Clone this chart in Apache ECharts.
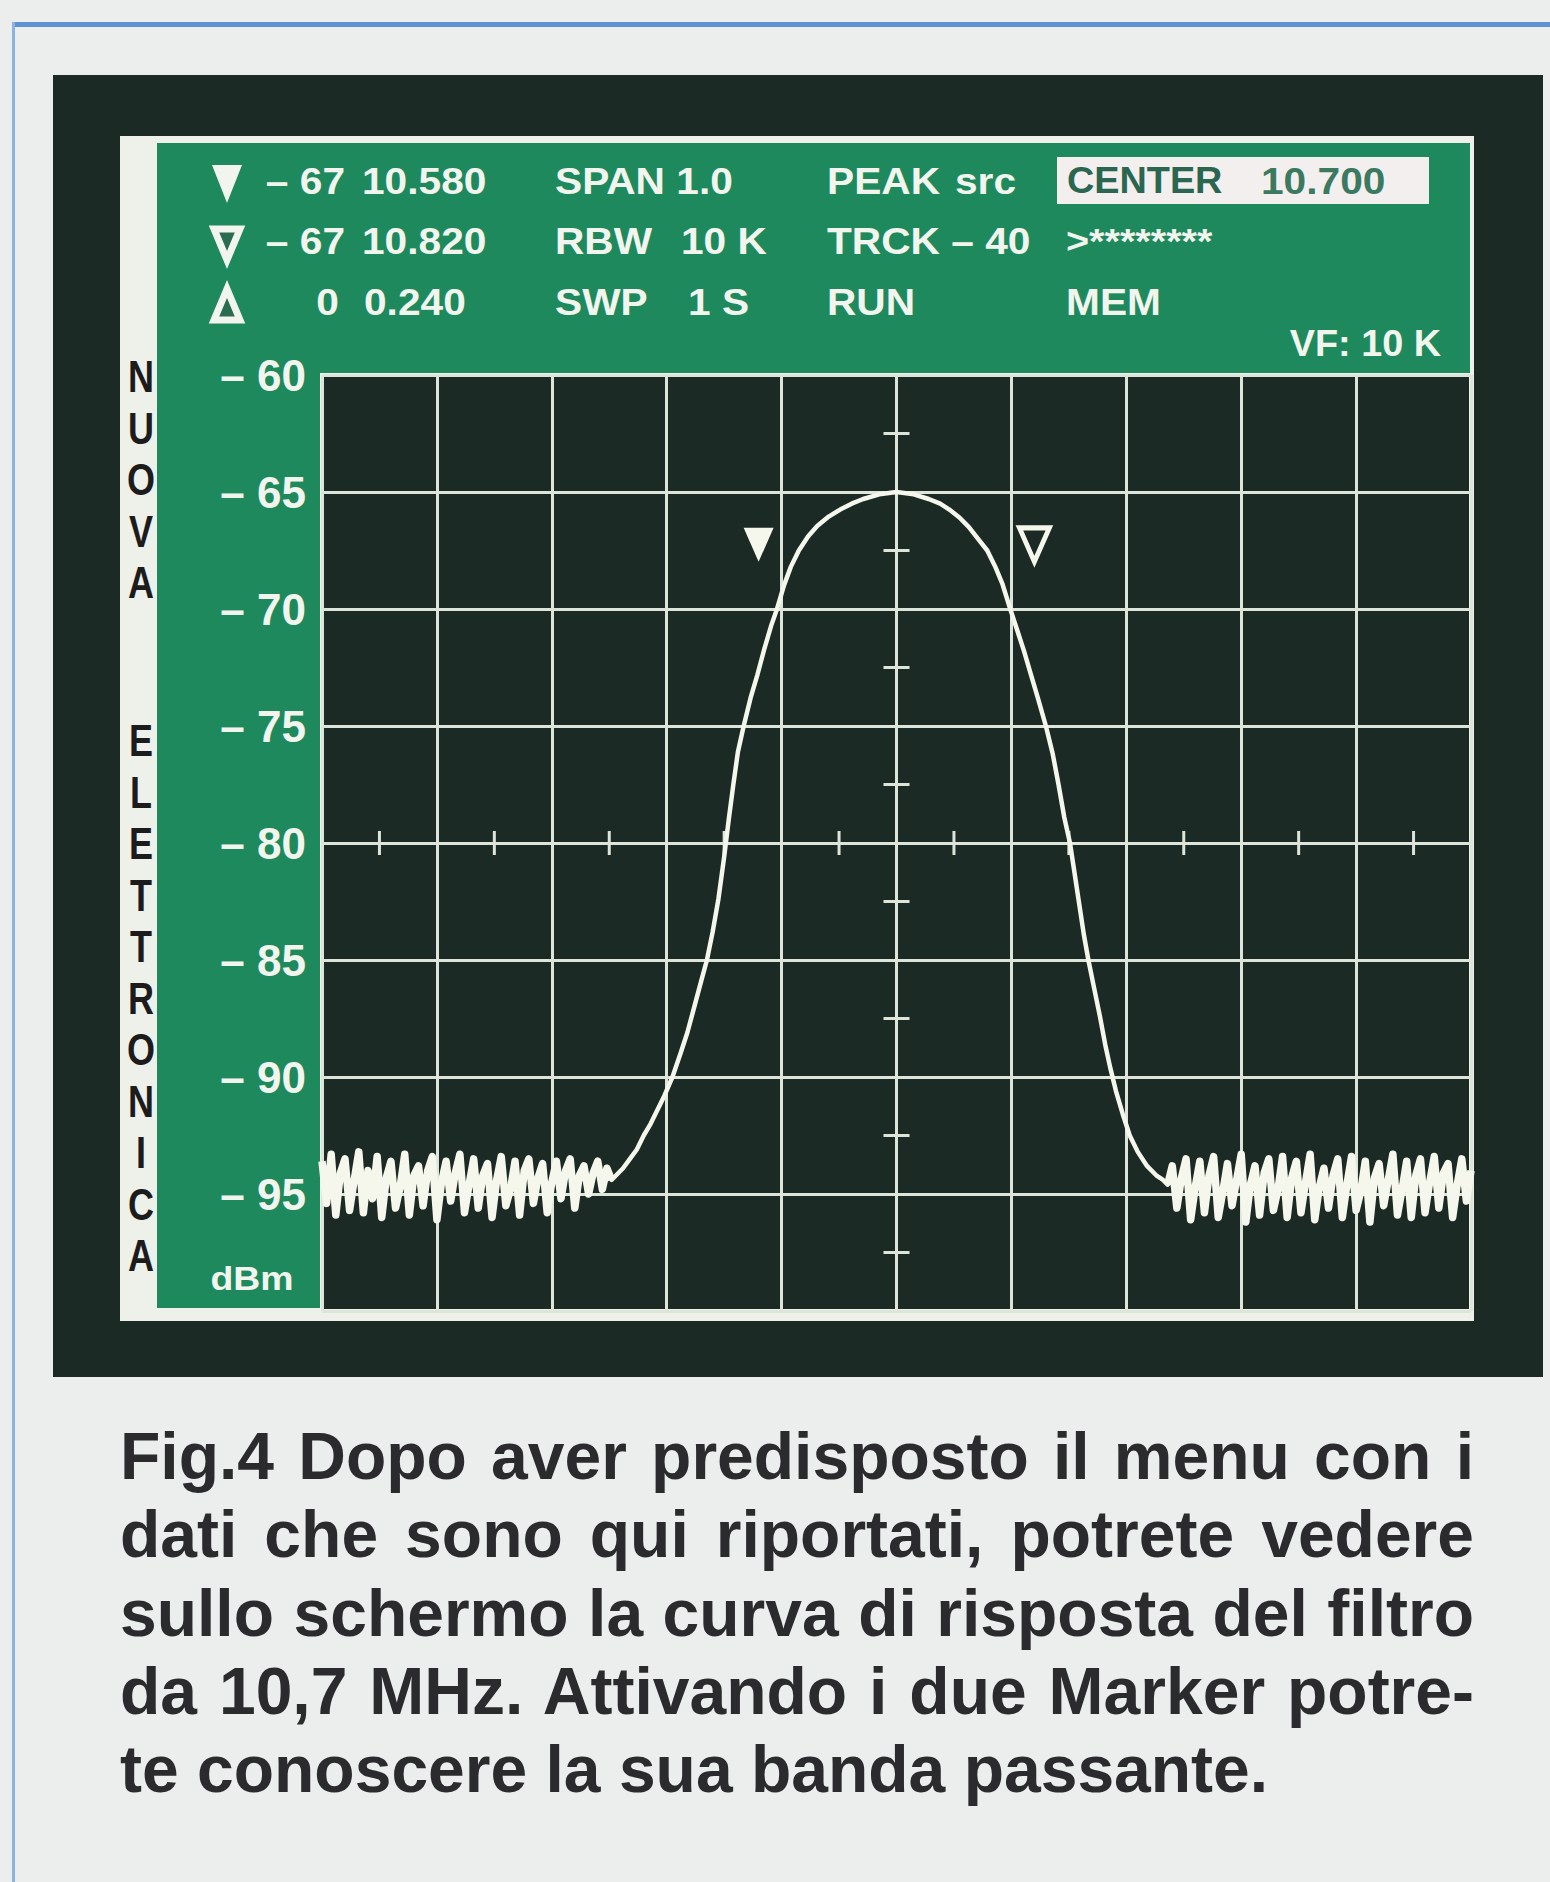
<!DOCTYPE html>
<html>
<head>
<meta charset="utf-8">
<title>Fig.4 – curva di risposta del filtro da 10,7 MHz</title>
<script src="https://cdn.jsdelivr.net/npm/echarts@6/dist/echarts.min.js"></script>
<style>
  html, body { margin: 0; padding: 0; }
  body { width: 1550px; height: 1882px; position: relative; background: #eceeed; overflow: hidden;
         font-family: "Liberation Sans", Arial, sans-serif; }
  .abs { position: absolute; }
  #topRule { left: 12px; top: 22px; width: 1538px; height: 5px; background: #5b93d3; }
  #leftRule { left: 12px; top: 22px; width: 3px; height: 1860px; background: #8db4e0; }
  #screen { left: 53px; top: 75px; width: 1490px; height: 1302px; background: #1c2a25; }
  #bezel { left: 120px; top: 136px; width: 1354px; height: 1185px; background: #eef0ea; }
  #panel { left: 157px; top: 143px; width: 1313px; height: 1165px; background: #1f895e; }
  #chart { left: 0; top: 0; width: 1550px; height: 1882px; }
  #caption { left: 120px; top: 1417px; width: 1354px; color: #2b2b2d;
             font: bold 66px/78.25px "Liberation Sans", Arial, sans-serif; }
  #caption div { text-align: justify; text-align-last: justify; white-space: nowrap; }
  #caption div.last { text-align: left; text-align-last: left; }
</style>
</head>
<body>
<div class="abs" id="topRule"></div>
<div class="abs" id="leftRule"></div>
<div class="abs" id="screen"></div>
<div class="abs" id="bezel"></div>
<div class="abs" id="panel"></div>
<div class="abs" id="chart"></div>
<div class="abs" id="caption">
  <div>Fig.4 Dopo aver predisposto il menu con i</div>
  <div>dati che sono qui riportati, potrete vedere</div>
  <div>sullo schermo la curva di risposta del filtro</div>
  <div>da 10,7 MHz. Attivando i due Marker potre-</div>
  <div class="last">te conoscere la sua banda passante.</div>
</div>
<script>
// Frequency axis: CENTER 10.700 MHz, SPAN 1.0 MHz, 10 divisions
const xMin = 10.2;
const xMax = 11.2;
const xStep = 0.1;
// Level axis in dBm, 5 dB per division
const yMin = -100;
const yMax = -60;
const yStep = 5;

// Sweep points of the noise floor, one every 4 kHz
const sweepStep = 0.004;
const noiseLeftStart = 10.200;
const noiseLeftLevel = [
  -93.6, -95.4, -93.3, -95.9, -94.1, -93.5, -95.7, -94.4, -93.2, -95.8,
  -94.0, -95.2, -93.4, -96.0, -94.3, -93.6, -95.6, -94.7, -93.3, -95.9,
  -94.2, -93.8, -95.5, -94.0, -93.4, -96.1, -94.5, -93.6, -95.3, -94.1,
  -93.3, -95.8, -94.6, -93.5, -95.6, -94.2, -93.7, -96.0, -94.4, -93.4,
  -95.5, -94.8, -93.6, -95.9, -94.0, -93.5, -95.4, -94.3, -93.7, -95.8,
  -94.5, -93.6, -95.2, -94.0, -93.5, -95.6, -94.2, -93.8, -95.0, -94.1,
  -93.6, -94.8, -93.9, -94.4
];
const noiseRightStart = 10.936;
const noiseRightLevel = [
  -94.6, -93.8, -95.6, -94.3, -93.5, -96.1, -94.7, -93.6, -95.8, -94.2,
  -93.4, -96.0, -94.9, -93.7, -95.5, -94.4, -93.3, -96.2, -94.6, -93.8,
  -95.9, -94.1, -93.5, -95.7, -94.8, -93.4, -96.0, -94.3, -93.6, -95.8,
  -94.5, -93.3, -96.1, -94.7, -93.9, -95.6, -94.2, -93.5, -96.0, -94.6,
  -93.4, -95.7, -94.9, -93.6, -96.2, -94.3, -93.7, -95.5, -94.4, -93.3,
  -95.9, -94.8, -93.6, -96.0, -94.2, -93.5, -95.8, -94.5, -93.4, -95.6,
  -94.1, -93.7, -96.0, -94.6, -93.5, -95.3, -94.0
];

// Filter response: low flank, passband, high flank
const passFreq = [
  10.462, 10.468, 10.474, 10.480, 10.486, 10.492, 10.498, 10.505, 10.512, 10.518,
  10.524, 10.530, 10.535, 10.540, 10.545, 10.550, 10.554, 10.558, 10.562, 10.567,
  10.573, 10.579, 10.585, 10.591, 10.596, 10.602, 10.608, 10.615, 10.623, 10.631,
  10.641, 10.651, 10.661, 10.671, 10.685, 10.700,
  10.715, 10.728, 10.738, 10.746, 10.755, 10.763, 10.771, 10.779, 10.786, 10.792,
  10.799, 10.805, 10.811, 10.817, 10.823, 10.830, 10.836, 10.841, 10.846, 10.851,
  10.855, 10.859, 10.863, 10.867, 10.872, 10.877, 10.882, 10.886, 10.891, 10.897,
  10.903, 10.910, 10.918, 10.926, 10.932
];
const passLevel = [
  -93.9, -93.5, -93.1, -92.5, -92.0, -91.4, -90.8, -90.0, -89.0, -88.1,
  -87.0, -85.9, -85.0, -83.8, -82.4, -80.6, -79.0, -77.5, -76.1, -75.0,
  -73.8, -72.8, -71.7, -70.7, -70.0, -69.0, -68.2, -67.5, -66.9, -66.45,
  -66.05, -65.75, -65.5, -65.3, -65.1, -65.0,
  -65.1, -65.3, -65.5, -65.75, -66.1, -66.5, -67.0, -67.5, -68.2, -68.9,
  -70.0, -70.9, -71.8, -72.8, -73.8, -75.0, -76.2, -77.5, -78.9, -80.0,
  -81.3, -82.6, -83.9, -85.0, -86.2, -87.4, -88.7, -89.6, -90.6, -91.6,
  -92.5, -93.2, -93.8, -94.2, -94.4
];

// The two markers (MHz, dBm)
const markerFreq = [10.580, 10.820];
const markerLevel = [-67, -67];

const FONT = '"Liberation Sans", Arial, sans-serif';
const INK = '#f1f5ee';
const TRACE = '#f5f6ec';
const GRID_COLOR = '#dde4da';
const SCREEN = '#1c2a25';

const round3 = v => Math.round(v * 1000) / 1000;
const fmtLevel = v => (v < 0 ? '\u2013 ' + Math.abs(v) : String(v));

const noiseLeft = noiseLeftLevel.map((v, i) => [round3(noiseLeftStart + i * sweepStep), v]);
const noiseRight = noiseRightLevel.map((v, i) => [round3(noiseRightStart + i * sweepStep), v]);
const passband = [noiseLeft[noiseLeft.length - 1]]
  .concat(passFreq.map((f, i) => [f, passLevel[i]]))
  .concat([noiseRight[0]]);

// Centre graticule: small ticks at half divisions on the middle lines
const xMid = (xMin + xMax) / 2;
const yMid = (yMin + yMax) / 2;
const graticule = [];
for (let k = 0; k < (yMax - yMin) / yStep; k++) {
  graticule.push({ value: [xMid, yMax - yStep / 2 - k * yStep], symbolSize: [26, 3] });
}
for (let k = 0; k < Math.round((xMax - xMin) / xStep); k++) {
  graticule.push({ value: [round3(xMin + xStep / 2 + k * xStep), yMid], symbolSize: [3, 24] });
}

// Text helpers for the on-screen readouts
function txt(x, y, text, o) {
  o = o || {};
  return {
    type: 'text', x: x, y: y, scaleX: o.sx || 1.13, z: 10,
    style: {
      text: text, fill: o.fill || INK,
      font: 'bold ' + (o.size || 36) + 'px ' + FONT,
      align: o.align || 'left', verticalAlign: 'middle'
    }
  };
}
function tri(points, filled) {
  return {
    type: 'polygon', z: 10,
    shape: { points: points },
    style: filled ? { fill: INK } : { fill: '#2a6b52', stroke: INK, lineWidth: 7, lineJoin: 'miter' }
  };
}

const rowY = [181, 241, 302];
const dLevel = markerLevel[1] - markerLevel[0];
const dFreq = (markerFreq[1] - markerFreq[0]).toFixed(3);

const graphics = [
  // marker readouts
  tri([[212, 165], [242, 165], [227, 203]], true),
  tri([[214, 229], [240, 229], [227, 260]], false),
  tri([[214, 320], [240, 320], [227, 289]], false),
  txt(345, rowY[0], fmtLevel(markerLevel[0]), { align: 'right' }),
  txt(362, rowY[0], markerFreq[0].toFixed(3)),
  txt(345, rowY[1], fmtLevel(markerLevel[1]), { align: 'right' }),
  txt(362, rowY[1], markerFreq[1].toFixed(3)),
  txt(339, rowY[2], fmtLevel(dLevel), { align: 'right' }),
  txt(364, rowY[2], dFreq),
  // settings
  txt(555, rowY[0], 'SPAN ' + (xMax - xMin).toFixed(1)),
  txt(555, rowY[1], 'RBW'),
  txt(681, rowY[1], '10 K'),
  txt(555, rowY[2], 'SWP'),
  txt(688, rowY[2], '1 S'),
  txt(827, rowY[0], 'PEAK'),
  txt(955, rowY[0], 'src'),
  txt(827, rowY[1], 'TRCK \u2013 40'),
  txt(827, rowY[2], 'RUN'),
  { type: 'rect', z: 9, shape: { x: 1057, y: 157, width: 372, height: 47 }, style: { fill: '#f3efee' } },
  txt(1067, rowY[0], 'CENTER', { fill: '#2a6650', sx: 1.05 }),
  txt(1261, rowY[0], ((xMin + xMax) / 2).toFixed(3), { fill: '#3b7a61' }),
  txt(1066, rowY[1], '>********', { sx: 1.1 }),
  txt(1066, rowY[2], 'MEM'),
  txt(1441, 344, 'VF: 10 K', { align: 'right', sx: 1.05 }),
  // unit label under the level scale
  txt(252, 1279, 'dBm', { align: 'center', size: 34, sx: 1.1 })
];

// Vertical masthead lettering on the bezel
[['NUOVA', 377], ['ELETTRONICA', 741]].forEach(([word, y0]) => {
  word.split('').forEach((ch, i) => {
    graphics.push({
      type: 'text', x: 141, y: y0 + i * 51.5, scaleX: 0.8, z: 10,
      style: { text: ch, fill: '#1c1c1c', font: 'bold 45px ' + FONT, align: 'center', verticalAlign: 'middle' }
    });
  });
});

const noiseStyle = { color: TRACE, width: 7.5, join: 'round' };
const curveStyle = { color: TRACE, width: 4.5, join: 'round', cap: 'round' };

const option = {
  animation: false,
  backgroundColor: 'transparent',
  grid: {
    left: 322, top: 375, width: 1149, height: 936,
    show: true, backgroundColor: SCREEN, borderColor: '#eef2ea', borderWidth: 4
  },
  xAxis: {
    type: 'value', min: xMin, max: xMax, interval: xStep,
    axisLine: { show: false }, axisTick: { show: false }, axisLabel: { show: false },
    splitLine: { show: true, lineStyle: { color: GRID_COLOR, width: 3 } }
  },
  yAxis: {
    type: 'value', min: yMin, max: yMax, interval: yStep,
    axisLine: { show: false }, axisTick: { show: false },
    axisLabel: {
      formatter: v => (v === yMin ? '' : fmtLevel(v)),
      color: INK, fontSize: 44, fontWeight: 'bold', fontFamily: FONT, margin: 16
    },
    splitLine: { show: true, lineStyle: { color: GRID_COLOR, width: 3 } }
  },
  graphic: graphics,
  series: [
    {
      name: 'graticule', type: 'scatter', symbol: 'rect', silent: true, z: 2,
      itemStyle: { color: GRID_COLOR, opacity: 1 }, data: graticule
    },
    {
      name: 'noise floor (low side)', type: 'line', showSymbol: false, symbol: 'none', z: 3,
      lineStyle: noiseStyle, data: noiseLeft
    },
    {
      name: 'filter response', type: 'line', showSymbol: false, symbol: 'none', z: 3,
      lineStyle: curveStyle, data: passband
    },
    {
      name: 'noise floor (high side)', type: 'line', showSymbol: false, symbol: 'none', z: 3,
      lineStyle: noiseStyle, data: noiseRight
    },
    {
      name: 'markers', type: 'scatter', symbol: 'triangle', symbolRotate: 180,
      symbolSize: [30, 34], symbolOffset: [0, 6], z: 5, silent: true,
      data: markerFreq.map((f, i) => ({
        value: [f, markerLevel[i]],
        itemStyle: i === 0
          ? { color: TRACE, opacity: 1 }
          : { color: SCREEN, borderColor: TRACE, borderWidth: 5, opacity: 1 }
      }))
    }
  ]
};

const chart = echarts.init(document.getElementById('chart'), null, { renderer: 'svg', width: 1550, height: 1882 });
chart.setOption(option);
</script>
</body>
</html>
